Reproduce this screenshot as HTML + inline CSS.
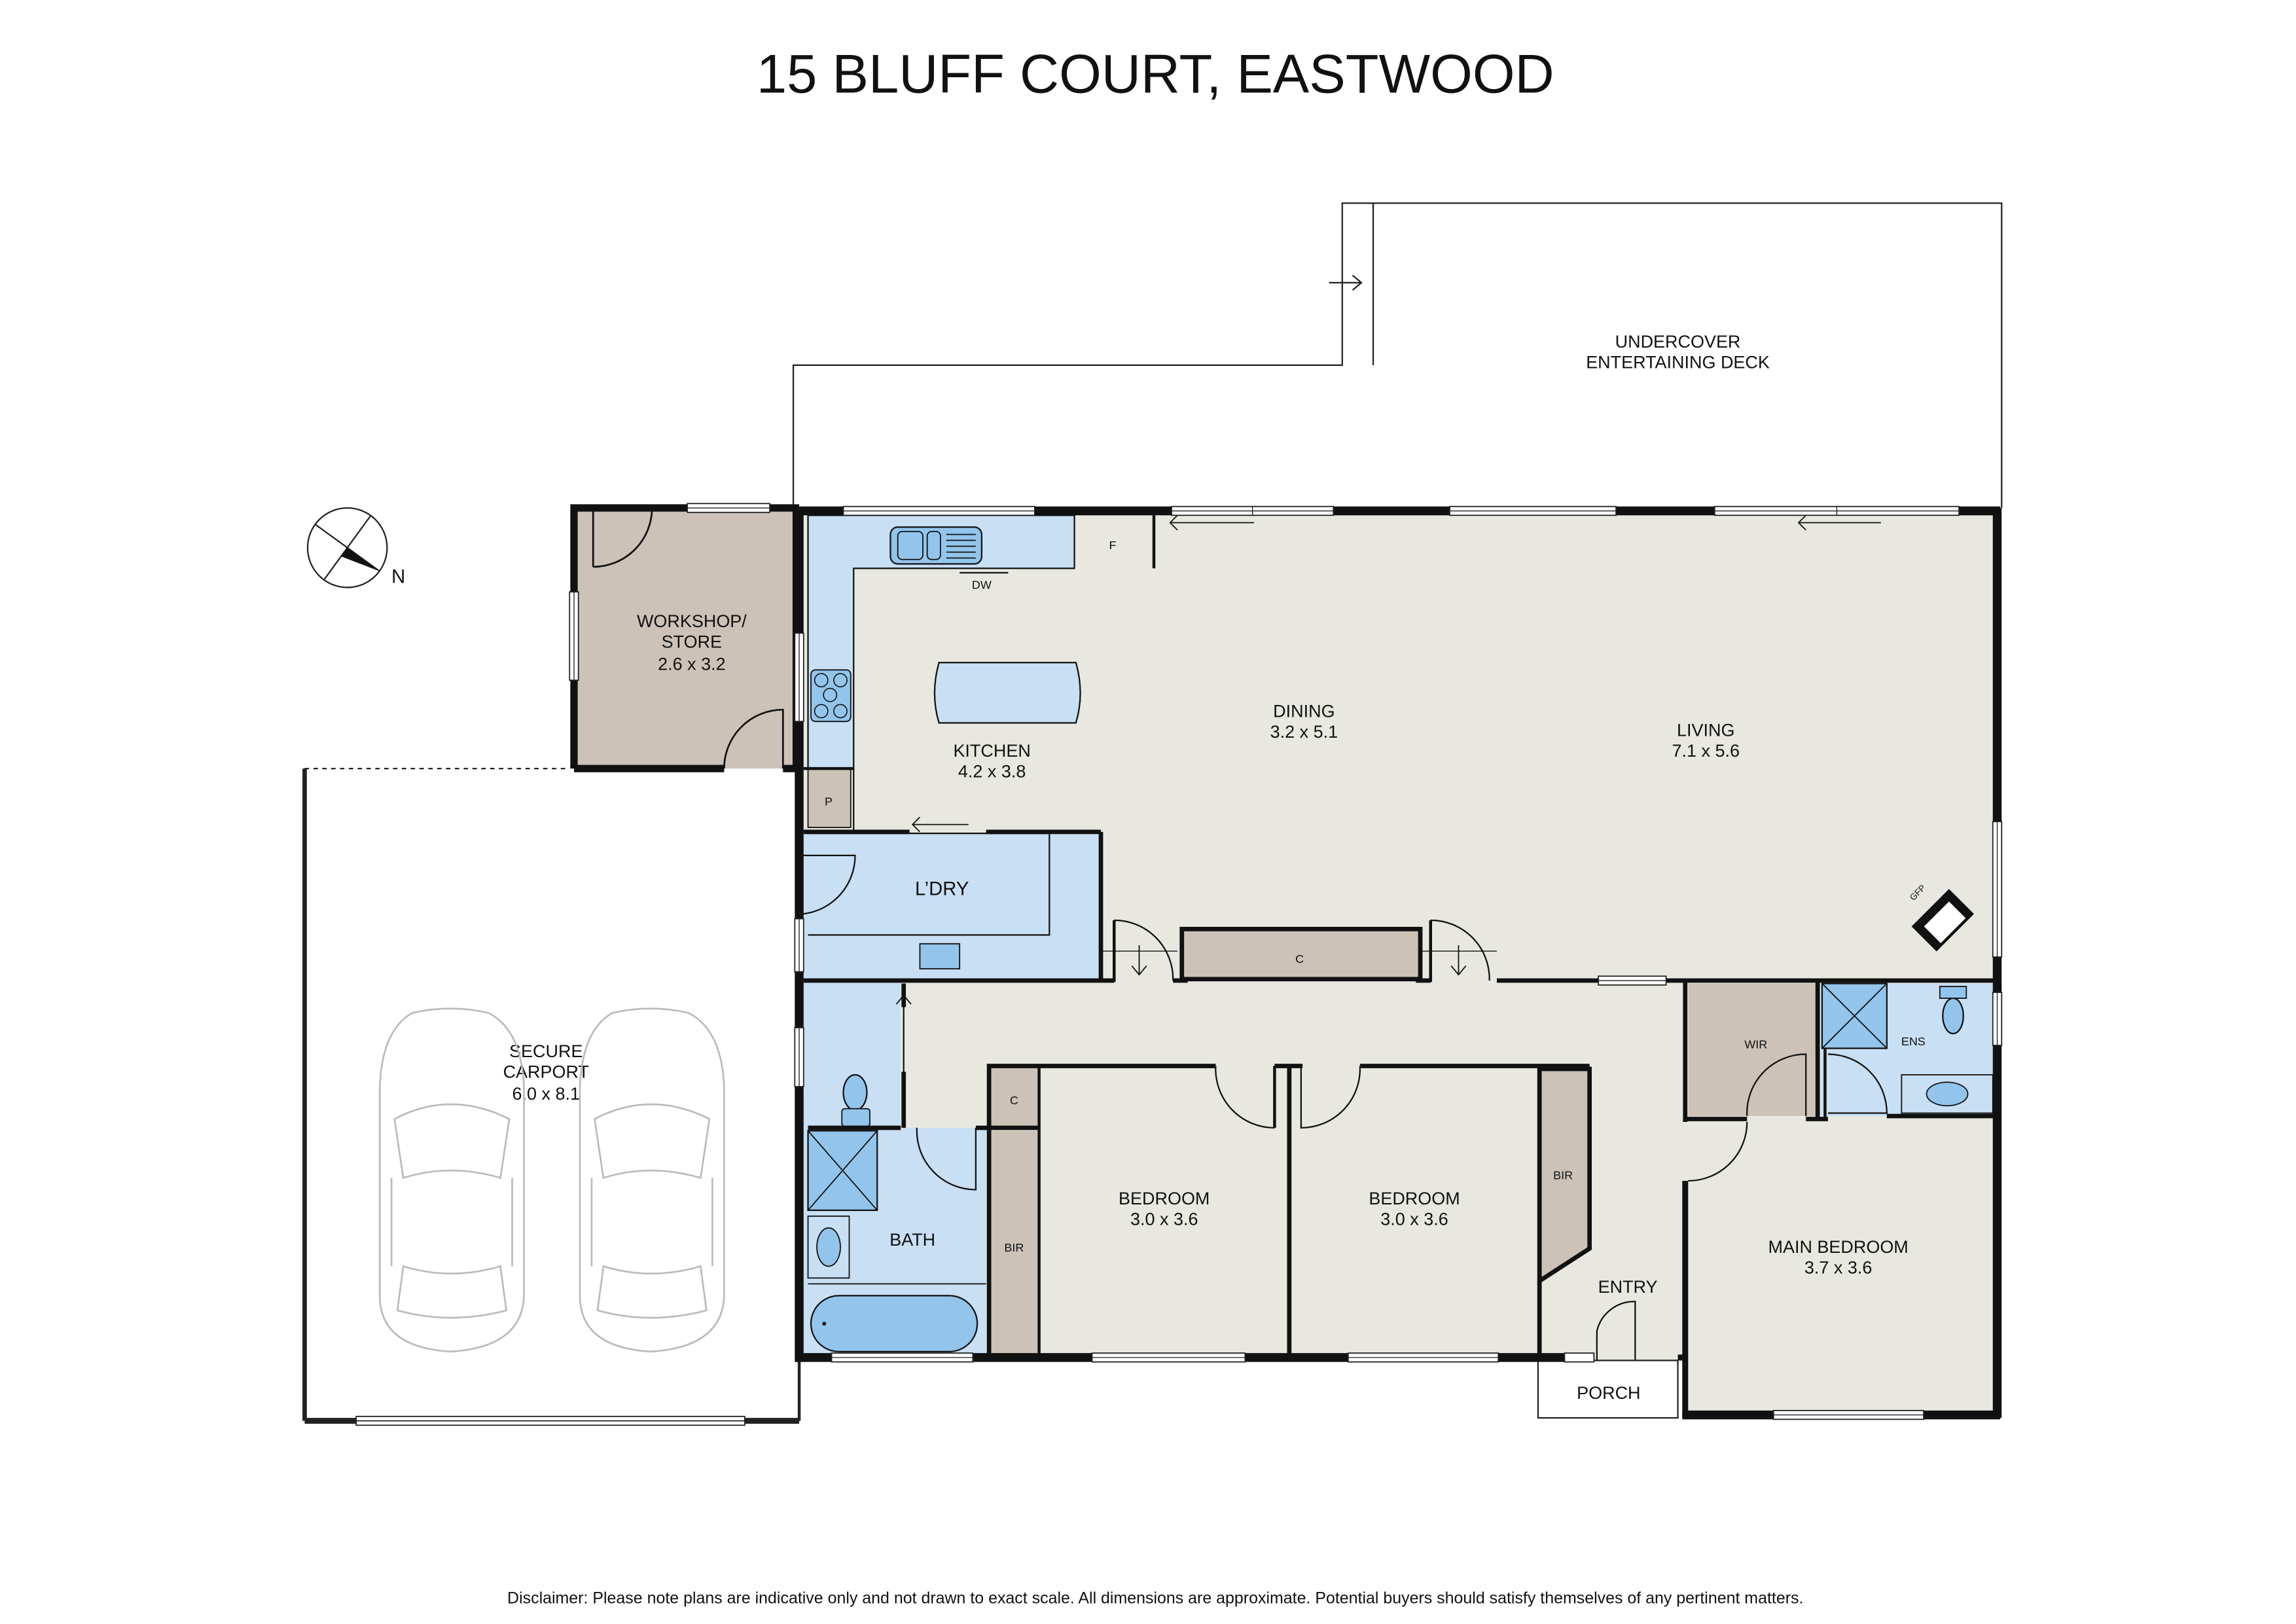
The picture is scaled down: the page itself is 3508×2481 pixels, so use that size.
<!DOCTYPE html>
<html><head><meta charset="utf-8"><style>
html,body{margin:0;padding:0;background:#fff}
svg{display:block}
text{font-family:"Liberation Sans",Arial,sans-serif;fill:#111}
</style></head><body>
<svg width="3508" height="2481" viewBox="0 0 1560 1103" preserveAspectRatio="none" xmlns="http://www.w3.org/2000/svg">
<rect width="1560" height="1103" fill="#fff"/>
<text x="785" y="63" font-size="37" text-anchor="middle">15 BLUFF COURT, EASTWOOD</text>

<g fill="none" stroke="#222" stroke-width="1">
<polyline points="539,347 539,248 912,248 912,138 1360,138 1360,345"/>
<line x1="933" y1="138" x2="933" y2="248"/>
<line x1="903" y1="192" x2="925" y2="192"/>
<polyline points="919,187 925,192 919,197"/>
</g>
<text x="1140" y="236" font-size="12" text-anchor="middle">UNDERCOVER</text>
<text x="1140" y="250" font-size="12" text-anchor="middle">ENTERTAINING DECK</text>

<circle cx="236" cy="372" r="27" fill="#fff" stroke="#222" stroke-width="1"/>
<line x1="214" y1="356" x2="258" y2="388" stroke="#222" stroke-width="1"/>
<line x1="220" y1="394" x2="252" y2="350" stroke="#222" stroke-width="1"/>
<polygon points="236,372 258,388 232,378" fill="#111"/>
<text x="266" y="396" font-size="13">N</text>

<g fill="none" stroke="#222">
<line x1="207" y1="522" x2="207" y2="965" stroke-width="3"/>
<line x1="543" y1="918" x2="543" y2="965" stroke-width="2"/>
<line x1="207" y1="522" x2="385" y2="522" stroke-width="1" stroke-dasharray="3,3"/>
<line x1="207" y1="965" x2="543" y2="965" stroke-width="4"/>
</g>
<rect x="242" y="962" width="264" height="6" fill="#fff" stroke="#222" stroke-width="0.8"/>
<line x1="242" y1="965" x2="506" y2="965" stroke="#222" stroke-width="0.8"/>
<text x="371" y="718" font-size="12" text-anchor="middle">SECURE</text>
<text x="371" y="732" font-size="12" text-anchor="middle">CARPORT</text>
<text x="371" y="747" font-size="12" text-anchor="middle">6.0 x 8.1</text>
<g fill="none" stroke="#bbb" stroke-width="1.2">
<path d="M280,688 Q306,682 332,688 Q355,700 356,740 L356,880 Q355,915 306,918 Q258,915 258,880 L258,740 Q259,700 280,688 Z"/>
<path d="M268,760 Q306,740 346,760 L340,800 Q306,790 274,800 Z"/>
<path d="M274,860 Q306,870 340,860 L344,890 Q306,900 270,890 Z"/>
<line x1="266" y1="800" x2="266" y2="860"/><line x1="348" y1="800" x2="348" y2="860"/>
<path d="M416,688 Q442,682 468,688 Q491,700 492,740 L492,880 Q491,915 442,918 Q394,915 394,880 L394,740 Q395,700 416,688 Z"/>
<path d="M404,760 Q442,740 482,760 L476,800 Q442,790 410,800 Z"/>
<path d="M410,860 Q442,870 476,860 L480,890 Q442,900 406,890 Z"/>
<line x1="402" y1="800" x2="402" y2="860"/><line x1="484" y1="800" x2="484" y2="860"/>
</g>

<rect x="392" y="345" width="148" height="177" fill="#ccc2b8"/>
<g stroke="#111" fill="none">
<polyline points="390,522 390,345 543,345" stroke-width="5"/>
<line x1="390" y1="522" x2="492" y2="522" stroke-width="5"/>
<line x1="532" y1="522" x2="545" y2="522" stroke-width="5"/>
<line x1="540" y1="347" x2="540" y2="522" stroke-width="3"/>
<path d="M403,345 L403,385 M403,385 A40,40 0 0 0 443,345" stroke-width="1.2"/>
<path d="M532,522 L532,482 A40,40 0 0 0 492,522" stroke-width="1.2"/>
</g>
<rect x="467" y="342" width="56" height="6" fill="#fff" stroke="#222" stroke-width="0.8"/>
<rect x="387" y="402" width="6" height="60" fill="#fff" stroke="#222" stroke-width="0.8"/>
<text x="470" y="426" font-size="12" text-anchor="middle">WORKSHOP/</text>
<text x="470" y="440" font-size="12" text-anchor="middle">STORE</text>
<text x="470" y="455" font-size="12" text-anchor="middle">2.6 x 3.2</text>

<rect x="546" y="347" width="810" height="320" fill="#e8e8e1"/>
<rect x="612" y="665" width="533" height="260" fill="#e8e8e1"/>
<rect x="1145" y="665" width="212" height="298" fill="#e8e8e1"/>
<path d="M549,350 L730,350 L730,386 L580,386 L580,522 L549,522 Z" fill="#c8dff4" stroke="#111" stroke-width="1"/>
<rect x="605" y="358" width="62" height="25" rx="5" fill="#93c5ec" stroke="#111" stroke-width="1"/>
<rect x="610" y="361" width="17" height="19" rx="3" fill="#93c5ec" stroke="#111" stroke-width="0.8"/>
<rect x="630" y="361" width="9" height="19" rx="3" fill="#93c5ec" stroke="#111" stroke-width="0.8"/>
<g stroke="#111" stroke-width="0.8"><line x1="643" y1="363" x2="663" y2="363"/><line x1="643" y1="367" x2="663" y2="367"/><line x1="643" y1="371" x2="663" y2="371"/><line x1="643" y1="375" x2="663" y2="375"/><line x1="643" y1="379" x2="663" y2="379"/></g>
<line x1="652" y1="389" x2="685" y2="389" stroke="#111" stroke-width="1"/>
<text x="667" y="400" font-size="8" text-anchor="middle">DW</text>
<rect x="551" y="455" width="27" height="35" rx="3" fill="#93c5ec" stroke="#111" stroke-width="0.8"/>
<g fill="#93c5ec" stroke="#111" stroke-width="0.7"><circle cx="558" cy="462" r="4.5"/><circle cx="571" cy="462" r="4.5"/><circle cx="564" cy="472" r="4.5"/><circle cx="558" cy="483" r="4.5"/><circle cx="571" cy="483" r="4.5"/></g>
<path d="M638,450 L731,450 Q737,471 731,491 L638,491 Q632,471 638,450 Z" fill="#c8dff4" stroke="#111" stroke-width="1"/>
<text x="756" y="373" font-size="8" text-anchor="middle">F</text>
<line x1="784" y1="350" x2="784" y2="386" stroke="#111" stroke-width="2"/>
<line x1="795" y1="355" x2="852" y2="355" stroke="#111" stroke-width="0.8"/><polyline points="800,350 795,355 800,360" fill="none" stroke="#111" stroke-width="0.8"/>
<line x1="1222" y1="355" x2="1278" y2="355" stroke="#111" stroke-width="0.8"/><polyline points="1227,350 1222,355 1227,360" fill="none" stroke="#111" stroke-width="0.8"/>
<text x="674" y="514" font-size="12" text-anchor="middle">KITCHEN</text>
<text x="674" y="528" font-size="12" text-anchor="middle">4.2 x 3.8</text>
<text x="886" y="487" font-size="12" text-anchor="middle">DINING</text>
<text x="886" y="501" font-size="12" text-anchor="middle">3.2 x 5.1</text>
<text x="1159" y="500" font-size="12" text-anchor="middle">LIVING</text>
<text x="1159" y="514" font-size="12" text-anchor="middle">7.1 x 5.6</text>
<rect x="549" y="522" width="29" height="40" fill="#ccc2b8" stroke="#111" stroke-width="0.8"/>
<text x="563" y="547" font-size="8" text-anchor="middle">P</text>
<rect x="546" y="566" width="202" height="99" fill="#c8dff4"/>
<path d="M549,566 L713,566 L713,635 L549,635" fill="none" stroke="#111" stroke-width="1"/>
<rect x="625" y="641" width="27" height="17" fill="#93c5ec" stroke="#111" stroke-width="0.8"/>
<path d="M541,581 L581,581 A40,40 0 0 1 541,621" fill="#c8dff4" stroke="#111" stroke-width="1"/>
<line x1="620" y1="560" x2="658" y2="560" stroke="#111" stroke-width="0.8"/><polyline points="625,555 620,560 625,565" fill="none" stroke="#111" stroke-width="0.8"/>
<text x="640" y="608" font-size="13" text-anchor="middle">L’DRY</text>
<rect x="546" y="667" width="66" height="100" fill="#c8dff4"/>
<rect x="546" y="766" width="124" height="154" fill="#c8dff4"/>
<ellipse cx="581" cy="742" rx="8" ry="12" fill="#93c5ec" stroke="#111" stroke-width="1"/>
<rect x="572" y="753" width="19" height="12" rx="2" fill="#93c5ec" stroke="#111" stroke-width="0.8"/>
<rect x="549" y="768" width="47" height="54" fill="#93c5ec" stroke="#111" stroke-width="1"/>
<line x1="549" y1="768" x2="596" y2="822" stroke="#111" stroke-width="0.8"/><line x1="596" y1="768" x2="549" y2="822" stroke="#111" stroke-width="0.8"/>
<rect x="549" y="826" width="28" height="42" fill="#c8dff4" stroke="#111" stroke-width="0.8"/>
<ellipse cx="563" cy="847" rx="8" ry="13" fill="#93c5ec" stroke="#111" stroke-width="0.8"/>
<line x1="549" y1="872" x2="670" y2="872" stroke="#111" stroke-width="0.8"/>
<rect x="551" y="880" width="113" height="38" rx="19" fill="#93c5ec" stroke="#111" stroke-width="1"/>
<circle cx="560" cy="899" r="1.3" fill="#111"/>
<path d="M623,766 A40,40 0 0 0 663,808 L663,766" fill="#c8dff4" stroke="#111" stroke-width="1"/>
<line x1="614" y1="676" x2="614" y2="766" stroke="#111" stroke-width="1"/>
<line x1="614" y1="668" x2="614" y2="684" stroke="#111" stroke-width="3"/><line x1="614" y1="728" x2="614" y2="766" stroke="#111" stroke-width="3"/>
<polyline points="609,682 614,676 619,682" fill="none" stroke="#111" stroke-width="0.8"/>
<text x="620" y="846" font-size="12" text-anchor="middle">BATH</text>
<rect x="672" y="724" width="34" height="42" fill="#ccc2b8"/>
<rect x="672" y="768" width="34" height="152" fill="#ccc2b8"/>
<text x="689" y="750" font-size="8" text-anchor="middle">C</text>
<text x="689" y="850" font-size="8" text-anchor="middle">BIR</text>
<path d="M1046,726 L1080,726 L1080,848 L1046,870 Z" fill="#ccc2b8" stroke="#111" stroke-width="3"/>
<text x="1062" y="801" font-size="8" text-anchor="middle">BIR</text>
<rect x="803" y="631" width="162" height="34" fill="#ccc2b8" stroke="#111" stroke-width="3"/>
<text x="883" y="654" font-size="8" text-anchor="middle">C</text>
<g stroke="#111" fill="none">
<polyline points="672,920 672,724 826,724" stroke-width="3"/>
<line x1="706" y1="724" x2="706" y2="920" stroke-width="2"/>
<line x1="866" y1="724" x2="885" y2="724" stroke-width="3"/>
<line x1="866" y1="724" x2="866" y2="766" stroke-width="2"/>
<line x1="876" y1="724" x2="876" y2="920" stroke-width="3"/>
<line x1="924" y1="724" x2="1080" y2="724" stroke-width="3"/>
<path d="M826,724 A40,40 0 0 0 866,766" stroke-width="1"/>
<path d="M924,724 A40,40 0 0 1 884,766 L884,724" stroke-width="1"/>
<line x1="549" y1="766" x2="612" y2="766" stroke-width="3"/>
<line x1="663" y1="766" x2="706" y2="766" stroke-width="3"/>
<line x1="1046" y1="870" x2="1046" y2="924" stroke-width="3"/>
</g>
<text x="791" y="818" font-size="12" text-anchor="middle">BEDROOM</text>
<text x="791" y="832" font-size="12" text-anchor="middle">3.0 x 3.6</text>
<text x="961" y="818" font-size="12" text-anchor="middle">BEDROOM</text>
<text x="961" y="832" font-size="12" text-anchor="middle">3.0 x 3.6</text>
<text x="1106" y="878" font-size="12" text-anchor="middle">ENTRY</text>
<rect x="1147" y="668" width="88" height="90" fill="#ccc2b8"/>
<rect x="1237" y="668" width="117" height="90" fill="#c8dff4"/>
<rect x="1238" y="668" width="44" height="44" fill="#93c5ec" stroke="#111" stroke-width="1"/>
<line x1="1238" y1="668" x2="1282" y2="712" stroke="#111" stroke-width="0.8"/><line x1="1282" y1="668" x2="1238" y2="712" stroke="#111" stroke-width="0.8"/>
<ellipse cx="1327" cy="690" rx="7" ry="12" fill="#93c5ec" stroke="#111" stroke-width="1"/>
<rect x="1318" y="670" width="18" height="8" fill="#93c5ec" stroke="#111" stroke-width="0.8"/>
<rect x="1292" y="730" width="62" height="26" fill="#c8dff4" stroke="#111" stroke-width="0.8"/>
<ellipse cx="1323" cy="743" rx="14" ry="8" fill="#93c5ec" stroke="#111" stroke-width="0.8"/>
<path d="M1242,716 A40,40 0 0 1 1282,756 L1242,756" fill="#c8dff4" stroke="#111" stroke-width="1"/>
<path d="M1227,758 L1227,716 A40,40 0 0 0 1187,758" fill="none" stroke="#111" stroke-width="1"/>
<path d="M1147,802 A40,40 0 0 0 1187,762" fill="none" stroke="#111" stroke-width="1"/>
<g stroke="#111" fill="none">
<line x1="1145" y1="665" x2="1145" y2="762" stroke-width="3"/>
<line x1="1145" y1="802" x2="1145" y2="963" stroke-width="4"/>
<line x1="1145" y1="760" x2="1187" y2="760" stroke-width="3"/>
<line x1="1227" y1="760" x2="1242" y2="760" stroke-width="3"/>
<line x1="1282" y1="758" x2="1357" y2="758" stroke-width="3"/>
<line x1="1235" y1="665" x2="1235" y2="760" stroke-width="3"/>
<line x1="1240" y1="712" x2="1240" y2="760" stroke-width="2"/>
</g>
<text x="1193" y="712" font-size="8" text-anchor="middle">WIR</text>
<text x="1300" y="710" font-size="8" text-anchor="middle">ENS</text>
<text x="1249" y="851" font-size="12" text-anchor="middle">MAIN BEDROOM</text>
<text x="1249" y="865" font-size="12" text-anchor="middle">3.7 x 3.6</text>
<g transform="translate(1320,625) rotate(-45)">
<rect x="-18" y="-12" width="36" height="24" fill="#111"/>
<rect x="-12" y="-6" width="24" height="16" fill="#fff"/>
</g>
<text x="1300" y="612" font-size="6" transform="rotate(-45 1300 612)">GFP</text>
<rect x="1045" y="924" width="95" height="39" fill="#fff" stroke="#222" stroke-width="1"/>
<text x="1093" y="950" font-size="12" text-anchor="middle">PORCH</text>
<path d="M1085,924 L1085,904 A26,26 0 0 1 1111,884 L1111,924" fill="none" stroke="#111" stroke-width="1"/>

<g stroke="#111" fill="none">
<line x1="543" y1="347" x2="1359" y2="347" stroke-width="6"/>
<line x1="1357" y1="345" x2="1357" y2="963" stroke-width="6"/>
<line x1="1143" y1="961" x2="1359" y2="961" stroke-width="6"/>
<line x1="543" y1="347" x2="543" y2="925" stroke-width="6"/>
<line x1="541" y1="922" x2="1083" y2="922" stroke-width="6"/>
<line x1="1140" y1="922" x2="1145" y2="922" stroke-width="4"/>
<line x1="546" y1="565" x2="618" y2="565" stroke-width="3"/>
<line x1="670" y1="565" x2="748" y2="565" stroke-width="3"/>
<line x1="748" y1="565" x2="748" y2="667" stroke-width="3"/>
<line x1="546" y1="666" x2="757" y2="666" stroke-width="3"/>
<line x1="757" y1="625" x2="757" y2="667" stroke-width="2"/>
<line x1="797" y1="666" x2="807" y2="666" stroke-width="3"/>
<line x1="962" y1="666" x2="972" y2="666" stroke-width="3"/>
<line x1="972" y1="625" x2="972" y2="667" stroke-width="2"/>
<line x1="1017" y1="666" x2="1357" y2="666" stroke-width="3"/>
<line x1="546" y1="522" x2="580" y2="522" stroke-width="2"/>
<line x1="580" y1="522" x2="580" y2="565" stroke-width="1"/>
<path d="M757,625 A40,40 0 0 1 797,666" stroke-width="1"/>
<path d="M972,625 A40,40 0 0 1 1012,666" stroke-width="1"/>
<line x1="748" y1="646" x2="800" y2="646" stroke-width="0.6"/>
<line x1="965" y1="646" x2="1017" y2="646" stroke-width="0.6"/>
<line x1="774" y1="642" x2="774" y2="662" stroke-width="0.8"/><polyline points="769,656 774,662 779,656" stroke-width="0.8"/>
<line x1="991" y1="642" x2="991" y2="662" stroke-width="0.8"/><polyline points="986,656 991,662 996,656" stroke-width="0.8"/>
</g>
<g fill="#fff" stroke="#222" stroke-width="0.8">
<rect x="573" y="344" width="130" height="6"/>
<rect x="796" y="344" width="110" height="6"/>
<rect x="985" y="344" width="113" height="6"/>
<rect x="1165" y="344" width="166" height="6"/>
<rect x="1354" y="558" width="6" height="92"/>
<rect x="1354" y="674" width="6" height="36"/>
<rect x="1086" y="663" width="46" height="6"/>
<rect x="540" y="430" width="6" height="60"/>
<rect x="540" y="624" width="6" height="36"/>
<rect x="540" y="698" width="6" height="40"/>
<rect x="565" y="919" width="96" height="6"/>
<rect x="742" y="919" width="104" height="6"/>
<rect x="916" y="919" width="102" height="6"/>
<rect x="1063" y="919" width="20" height="6"/>
<rect x="1205" y="958" width="102" height="6"/>
</g>
<g stroke="#222" stroke-width="0.6">
<line x1="573" y1="347" x2="703" y2="347"/><line x1="851" y1="344" x2="851" y2="350"/><line x1="796" y1="347" x2="906" y2="347"/>
<line x1="985" y1="347" x2="1098" y2="347"/><line x1="1165" y1="347" x2="1331" y2="347"/><line x1="1248" y1="344" x2="1248" y2="350"/>
<line x1="1357" y1="558" x2="1357" y2="650"/><line x1="1357" y1="674" x2="1357" y2="710"/>
<line x1="543" y1="430" x2="543" y2="490"/><line x1="543" y1="624" x2="543" y2="660"/><line x1="543" y1="698" x2="543" y2="738"/>
<line x1="565" y1="922" x2="661" y2="922"/><line x1="742" y1="922" x2="846" y2="922"/><line x1="916" y1="922" x2="1018" y2="922"/>
<line x1="1205" y1="961" x2="1307" y2="961"/><line x1="1086" y1="666" x2="1132" y2="666"/>
<line x1="467" y1="345" x2="523" y2="345"/><line x1="390" y1="402" x2="390" y2="462"/>
</g>

<text x="785" y="1089" font-size="11.1" text-anchor="middle">Disclaimer: Please note plans are indicative only and not drawn to exact scale. All dimensions are approximate. Potential buyers should satisfy themselves of any pertinent matters.</text>
</svg>
</body></html>
